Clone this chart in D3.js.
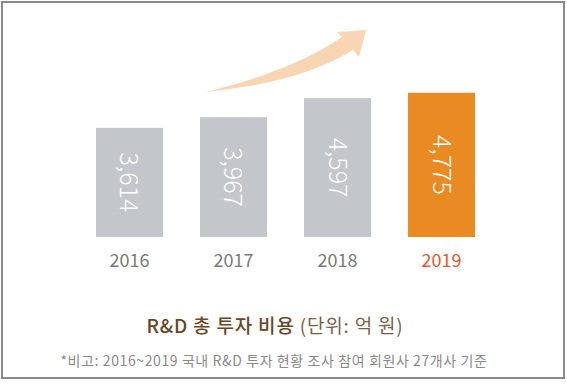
<!DOCTYPE html>
<html>
<head>
<meta charset="utf-8">
<script src="https://cdn.jsdelivr.net/npm/d3@7"></script>
<style>
  body { margin: 0; background: #fff; }
  svg { display: block; }
</style>
</head>
<body>
<script>
// data
const years = ["2016", "2017", "2018", "2019"];
const costs = [3614, 3967, 4597, 4775];   // 억 원
const highlightYear = "2019";

const titleMain = "R&D 총 투자 비용";
const titleUnit = " (단위: 억 원)";
const footnote = "*비고: 2016~2019 국내 R&D 투자 현황 조사 참여 회원사 27개사 기준";

const width = 567, height = 384;
const baseY = 237;

const svg = d3.select("body").append("svg")
    .attr("width", width)
    .attr("height", height);

// frame
svg.append("rect")
    .attr("x", 2).attr("y", 2)
    .attr("width", 562).attr("height", 376)
    .attr("fill", "none")
    .attr("stroke", "#8a8a8a")
    .attr("stroke-width", 2);

const x = d3.scaleBand()
    .domain(years)
    .range([96, 475])
    .paddingInner(0.356)
    .paddingOuter(0);

const y = d3.scaleLinear()
    .domain([0, 5000])
    .range([baseY, baseY - 151]);

// growth arrow (decoration)
svg.append("path")
    .attr("d", "M205,92 Q290,72 342,37 L337,32 L366,30 L359,57 L353,50 Q300,83 205,92 Z")
    .attr("fill", "#f8d6b3");

const data = years.map((yr, i) => ({year: yr, value: costs[i]}));

svg.selectAll(".bar")
    .data(data)
    .join("rect")
    .attr("class", "bar")
    .attr("x", d => x(d.year))
    .attr("y", d => y(d.value))
    .attr("width", x.bandwidth())
    .attr("height", d => y(0) - y(d.value))
    .attr("fill", d => d.year === highlightYear ? "#e98a23" : "#c3c7cb");

// values, rotated to read top to bottom
svg.selectAll(".val")
    .data(data)
    .join("text")
    .attr("class", "val")
    .attr("transform", d => {
        const cx = x(d.year) + x.bandwidth() / 2;
        const cy = (y(d.value) + y(0)) / 2;
        return `translate(${cx},${cy}) rotate(90)`;
    })
    .attr("text-anchor", "middle")
    .attr("dy", "0.36em")
    .attr("fill", "#fff")
    .attr("font-family", "'Noto Sans CJK KR', 'Noto Sans', sans-serif")
    .attr("font-weight", 300)
    .attr("font-size", "25px")
    .text(d => d3.format(",")(d.value));

// year labels
svg.selectAll(".yr")
    .data(data)
    .join("text")
    .attr("class", "yr")
    .attr("x", d => x(d.year) + x.bandwidth() / 2)
    .attr("y", 267)
    .attr("text-anchor", "middle")
    .attr("fill", d => d.year === highlightYear ? "#e8582a" : "#7a7a7a")
    .attr("font-family", "'Noto Sans CJK KR', 'Noto Sans', sans-serif")
    .attr("font-size", "18px")
    .text(d => d.year);

// title
const title = svg.append("text")
    .attr("x", 275)
    .attr("y", 333)
    .attr("text-anchor", "middle")
    .attr("font-family", "'Noto Sans CJK KR', sans-serif")
    .attr("font-size", "19px")
    .attr("letter-spacing", "0.8px");
title.append("tspan")
    .attr("fill", "#6b4526")
    .attr("font-weight", 500)
    .text(titleMain);
title.append("tspan")
    .attr("fill", "#7d6047")
    .text(titleUnit);

svg.append("text")
    .attr("x", 274)
    .attr("y", 366)
    .attr("text-anchor", "middle")
    .attr("fill", "#8a8a8a")
    .attr("font-family", "'Noto Sans CJK KR', sans-serif")
    .attr("font-size", "14px")
    .attr("letter-spacing", "0.6px")
    .text(footnote);
</script>
</body>
</html>
